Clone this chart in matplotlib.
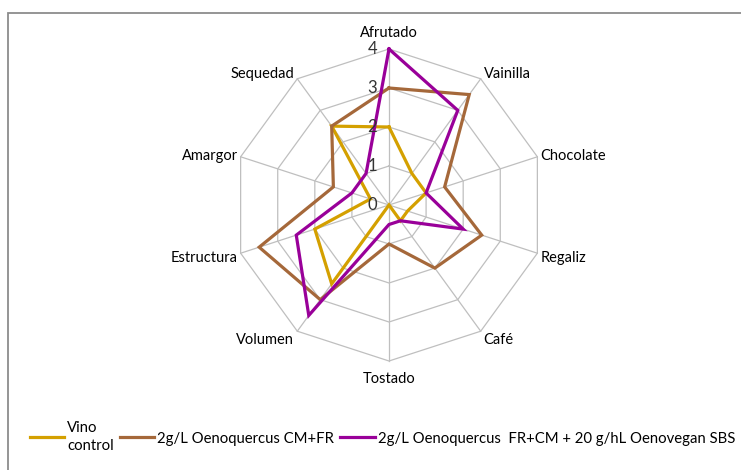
import numpy as np
import matplotlib
matplotlib.use("Agg")
import matplotlib.pyplot as plt
from matplotlib.patches import Rectangle

# ==============================================================================
# data
categories = ["Afrutado", "Vainilla", "Chocolate", "Regaliz", "Café",
              "Tostado", "Volumen", "Estructura", "Amargor", "Sequedad"]
vino_control = [2, 1, 1, 0.5, 0.5, 0, 2.5, 2, 0.5, 2.5]
cm_fr = [3, 3.5, 1.5, 2.5, 2, 1, 3, 3.5, 1.5, 2.5]
fr_cm_sbs = [4, 3, 1, 2, 0.5, 0.5, 3.5, 2.5, 1, 1]
series_labels = ["Vino\ncontrol",
                 "2g/L Oenoquercus CM+FR",
                 "2g/L Oenoquercus  FR+CM + 20 g/hL Oenovegan SBS"]
series_colors = ["#D4A000", "#A5683A", "#990099"]
r_ticks = [0, 1, 2, 3, 4]

plt.rcParams['font.family'] = ['Lato', 'DejaVu Sans']

W, H = 741, 470
fig = plt.figure(figsize=(W / 100, H / 100), dpi=100)

# outer frame of the chart area
fig.add_artist(Rectangle((8 / W, -0.05), 1.1, 1 - 13 / H + 0.05,
                         transform=fig.transFigure, fill=False,
                         edgecolor="#8C8C8C", linewidth=1.3))

cx, cy, rad = 389, 205, 156
ax = fig.add_axes([(cx - rad) / W, (H - cy - rad) / H, 2 * rad / W, 2 * rad / H],
                  projection="polar")
ax.set_theta_offset(np.pi / 2)
ax.set_theta_direction(-1)
ax.set_ylim(0, max(r_ticks))
ax.grid(False)
ax.spines["polar"].set_visible(False)
ax.set_xticks([])
ax.set_yticks([])
ax.patch.set_alpha(0)

n = len(categories)
angles = np.arange(n) * 2 * np.pi / n
closed = np.append(angles, angles[0])

# decagon grid + spokes
grid_col = "#BFBFBF"
for r in r_ticks[1:]:
    ax.plot(closed, [r] * (n + 1), color=grid_col, lw=0.9, clip_on=False, zorder=1)
for a in angles:
    ax.plot([a, a], [0, max(r_ticks)], color=grid_col, lw=0.9, clip_on=False, zorder=1)

# series
for vals, lab, col in zip([vino_control, cm_fr, fr_cm_sbs], series_labels, series_colors):
    ax.plot(closed, vals + vals[:1], color=col, lw=2.3, label=lab,
            clip_on=False, zorder=3, solid_joinstyle="miter")

# radial tick labels
for r in r_ticks:
    ax.annotate(str(r), xy=(0, r), xytext=(-12, 0), textcoords="offset pixels",
                ha="right", va="center", fontsize=12, color="#333333", zorder=4)

# category labels
for a, lab in zip(angles, categories):
    s, c = np.sin(a), np.cos(a)
    if abs(s) <= 0.1:
        ha = "center"
        va = "bottom" if c > 0 else "top"
        off = (0, 9 if c > 0 else -11)
    else:
        ha = "left" if s > 0 else "right"
        va = "center"
        off = (3 * np.sign(s), 9 * c - 2)
    ax.annotate(lab, xy=(a, max(r_ticks)), xytext=off,
                textcoords="offset pixels", ha=ha, va=va,
                fontsize=10.5, color="#000000")

handles, labels = ax.get_legend_handles_labels()
leg = fig.legend(handles, labels, loc="center left", bbox_to_anchor=(24 / W, 1 - 437 / H),
                 ncol=3, frameon=False, fontsize=10.7, handlelength=2.3,
                 handletextpad=0.2, columnspacing=0.42, borderaxespad=0)
for t in leg.get_texts():
    t.set_linespacing(1.45)

fig.savefig("out.png", dpi=100)
